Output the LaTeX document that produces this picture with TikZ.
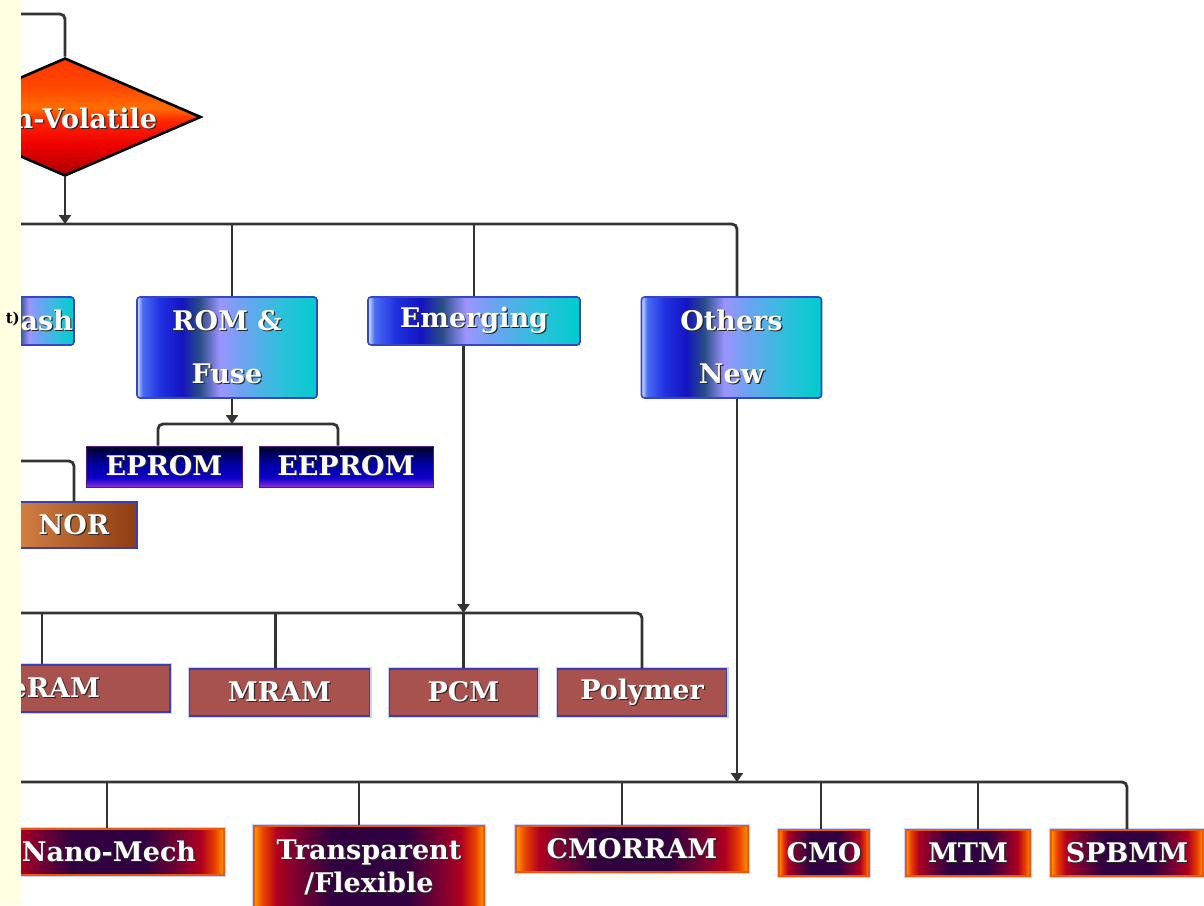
\documentclass[tikz,border=0pt]{standalone}
\usepackage{fontspec}
\setmainfont{DejaVu Serif}
\usetikzlibrary{shapes.geometric,arrows.meta,calc}

% palette
\definecolor{linegray}{HTML}{333333}
\definecolor{stripyellow}{HTML}{FFFFE2}
\definecolor{boxblue}{HTML}{3546C8}
\definecolor{haloblue}{HTML}{C8D0FF}
\definecolor{memfill}{HTML}{A8524F}
\definecolor{memedge}{HTML}{3A3FB0}
\definecolor{rimorange}{HTML}{E85A10}
\definecolor{txtshadow}{HTML}{2A2A2A}

\definecolor{bbA}{HTML}{DCE6FF}
\definecolor{bbB}{HTML}{4A6CF2}
\definecolor{bbC}{HTML}{2030E0}
\definecolor{bbD}{HTML}{1414C0}
\definecolor{bbE}{HTML}{2A4E86}
\definecolor{bbF}{HTML}{9C94FF}
\definecolor{bbG}{HTML}{6FA2F2}
\definecolor{bbH}{HTML}{2EC0DC}
\definecolor{bbI}{HTML}{00CCCC}

\definecolor{epA}{HTML}{9030D0}
\definecolor{epB}{HTML}{5018D8}
\definecolor{epC}{HTML}{1000C8}
\definecolor{epD}{HTML}{0000A8}
\definecolor{epE}{HTML}{000050}
\definecolor{epF}{HTML}{000012}

\definecolor{rbA}{HTML}{FF9A00}
\definecolor{rbB}{HTML}{E84000}
\definecolor{rbC}{HTML}{B00020}
\definecolor{rbD}{HTML}{800030}
\definecolor{rbE}{HTML}{300040}

\definecolor{norA}{HTML}{D68446}
\definecolor{norB}{HTML}{8E3C12}

\definecolor{dmA}{HTML}{A80000}
\definecolor{dmB}{HTML}{EE0000}
\definecolor{dmC}{HTML}{FF2200}
\definecolor{dmD}{HTML}{FF6E00}
\definecolor{dmE}{HTML}{FF4A00}
\definecolor{dmF}{HTML}{FF3500}

% gradients (the 25bp..75bp band spans the filled shape)
\pgfdeclarehorizontalshading{bluegrad}{100bp}{color(0bp)=(bbA); color(25bp)=(bbA); color(26.5bp)=(bbB); color(31.5bp)=(bbC); color(37.5bp)=(bbD); color(42.5bp)=(bbE); color(48bp)=(bbF); color(54bp)=(bbG); color(65bp)=(bbH); color(75bp)=(bbI); color(100bp)=(bbI)}
\pgfdeclareverticalshading{epromgrad}{100bp}{color(0bp)=(epA); color(25bp)=(epA); color(30bp)=(epB); color(36bp)=(epC); color(52bp)=(epD); color(68bp)=(epE); color(75bp)=(epF); color(100bp)=(epF)}
\pgfdeclarehorizontalshading{rimgrad}{100bp}{color(0bp)=(rbA); color(25bp)=(rbA); color(27bp)=(rbB); color(30bp)=(rbC); color(34bp)=(rbD); color(42bp)=(rbE); color(58bp)=(rbE); color(66bp)=(rbD); color(70bp)=(rbC); color(73bp)=(rbB); color(75bp)=(rbA); color(100bp)=(rbA)}
\pgfdeclarehorizontalshading{norgrad}{100bp}{color(0bp)=(norA); color(25bp)=(norA); color(75bp)=(norB); color(100bp)=(norB)}
\pgfdeclareverticalshading{diamgrad}{100bp}{color(0bp)=(dmA); color(25bp)=(dmA); color(38bp)=(dmB); color(48bp)=(dmC); color(54bp)=(dmD); color(62bp)=(dmE); color(75bp)=(dmF); color(100bp)=(dmF)}

% white lettering with a dark drop shadow
\newcommand\shd[1]{\makebox[0pt][l]{\kern1.2pt\raisebox{-1.2pt}{\textcolor{txtshadow}{#1}}}#1}

\begin{document}
\begin{tikzpicture}[x=1pt,y=-1pt,
  conn/.style={draw=linegray, line width=2.8pt},
  arr/.style={conn, -{Triangle[width=12pt,length=9pt]}},
  lbl/.style={text=white, font=\bfseries\fontsize{27}{32}\selectfont, align=center, inner sep=0pt},
  twoline/.style={font=\bfseries\fontsize{27}{#1}\selectfont},
  bluebox/.style={lbl, rectangle, rounded corners=3pt, shading=bluegrad, draw=boxblue, line width=1.6pt},
  epbox/.style={lbl, rectangle, shading=epromgrad, draw=epA!60!black, line width=1pt},
  norbox/.style={lbl, rectangle, shading=norgrad, draw=memedge, line width=1.4pt},
  membox/.style={lbl, rectangle, fill=memfill, draw=memedge, line width=1.6pt,
    preaction={draw=haloblue, line width=4pt}},
  rimbox/.style={lbl, rectangle, shading=rimgrad, draw=rimorange, line width=1.6pt,
    preaction={draw=haloblue, line width=4pt}},
]
\useasboundingbox (0,0) rectangle (1204,905);
\clip (0,0) rectangle (1204,905);
\fill[white] (0,0) rectangle (1204,905);

% ---- decision node
\node[diamond, shading=diamgrad, draw=black, line width=2.6pt,
      minimum width=272pt, minimum height=118pt, inner sep=0pt] (nv) at (65,117) {};
\node[lbl] (nvtext) at (64,119) {\shd{Non-Volatile}};

% ---- first level
\node[bluebox, minimum width=84pt, minimum height=48pt] (flash) at (32,321) {\shd{Flash}};
\node[bluebox, minimum width=180pt, minimum height=101pt, twoline=53] (rom) at (227,347.5) {\shd{ROM \&}\\\shd{Fuse}};
\node[bluebox, minimum width=212pt, minimum height=48pt] (em) at (474,321) {\shd{Emerging}};
\node[bluebox, minimum width=180pt, minimum height=101pt, twoline=53] (others) at (731.5,347.5) {\shd{Others}\\\shd{New}};

% ---- ROM children
\node[epbox, minimum width=156pt, minimum height=41pt] (eprom) at (164,466.5) {\shd{EPROM}};
\node[epbox, minimum width=174pt, minimum height=41pt] (eeprom) at (346,466.5) {\shd{EEPROM}};

% ---- flash child
\node[norbox, minimum width=126pt, minimum height=46pt] (nor) at (74,525) {\shd{NOR}};

% ---- emerging children
\node[membox, minimum width=248pt, minimum height=47pt] (feram) at (46,688.5) {\shd{FeRAM}};
\node[membox, minimum width=180pt, minimum height=47pt] (mram) at (279.5,692.5) {\shd{MRAM}};
\node[membox, minimum width=148pt, minimum height=47pt] (pcm) at (463.5,692.5) {\shd{PCM}};
\node[membox, minimum width=169pt, minimum height=47pt] (poly) at (642,692.5) {\shd{Polymer}};

% ---- new technologies
\node[rimbox, minimum width=230pt, minimum height=46pt] (nano) at (109,852) {\shd{Nano-Mech}};
\node[rimbox, minimum width=230pt, minimum height=84pt, twoline=33] (trans) at (369,868) {\shd{Transparent}\\\shd{/Flexible}};
\node[rimbox, minimum width=232pt, minimum height=46pt] (cmor) at (632,849) {\shd{CMORRAM}};
\node[rimbox, minimum width=90pt, minimum height=46pt] (cmo) at (824,853) {\shd{CMO}};
\node[rimbox, minimum width=124pt, minimum height=46pt] (mtm) at (968,853) {\shd{MTM}};
\node[rimbox, minimum width=152pt, minimum height=46pt] (spbmm) at (1127,853) {\shd{SPBMM}};

% ---- bus anchors
\coordinate (topin) at (0,14);
\coordinate (mainbus) at (0,224);
\coordinate (norin) at (0,461);
\coordinate (rombus) at (232,424);
\coordinate (embus) at (0,613);
\coordinate (obus) at (0,782);

% ---- connectors
\draw[conn, rounded corners=5pt] (topin) -| (nv.north);
\draw[arr] (nv.south) -- (nv.south |- mainbus);
\draw[conn, rounded corners=5pt] (mainbus) -| ([xshift=5.5pt]others.north);
\draw[conn] ([xshift=5pt]rom.north |- mainbus) -- ([xshift=5pt]rom.north);
\draw[conn] (em.north |- mainbus) -- (em.north);

\draw[arr] ([xshift=5pt]rom.south) -- (rombus);
\draw[conn, rounded corners=5pt] ([xshift=-6pt]eprom.north) |- (rombus) -| ([xshift=-8pt]eeprom.north);

\draw[conn, rounded corners=5pt] (norin) -| (nor.north);

\draw[arr] (em.south -| pcm.north) -- (pcm.north |- embus);
\draw[conn, rounded corners=5pt] (embus) -| (poly.north);
\draw[conn] ([xshift=-4pt]feram.north |- embus) -- ([xshift=-4pt]feram.north);
\draw[conn] ([xshift=-4pt]mram.north |- embus) -- ([xshift=-4pt]mram.north);
\draw[conn] (pcm.north |- embus) -- (pcm.north);

\draw[arr] ([xshift=5.5pt]others.south) -- ([xshift=5.5pt]others.south |- obus);
\draw[conn, rounded corners=5pt] (obus) -| (spbmm.north);
\draw[conn] ([xshift=-2pt]nano.north |- obus) -- ([xshift=-2pt]nano.north);
\draw[conn] ([xshift=-10pt]trans.north |- obus) -- ([xshift=-10pt]trans.north);
\draw[conn] ([xshift=-10pt]cmor.north |- obus) -- ([xshift=-10pt]cmor.north);
\draw[conn] ([xshift=-3pt]cmo.north |- obus) -- ([xshift=-3pt]cmo.north);
\draw[conn] ([xshift=10pt]mtm.north |- obus) -- ([xshift=10pt]mtm.north);

% ---- side strip
\fill[stripyellow] (0,0) rectangle (21,905);
\node[anchor=east, inner sep=0pt, font=\bfseries\fontsize{15}{18}\selectfont] (cut) at (20,319) {t)};
\end{tikzpicture}
\end{document}
